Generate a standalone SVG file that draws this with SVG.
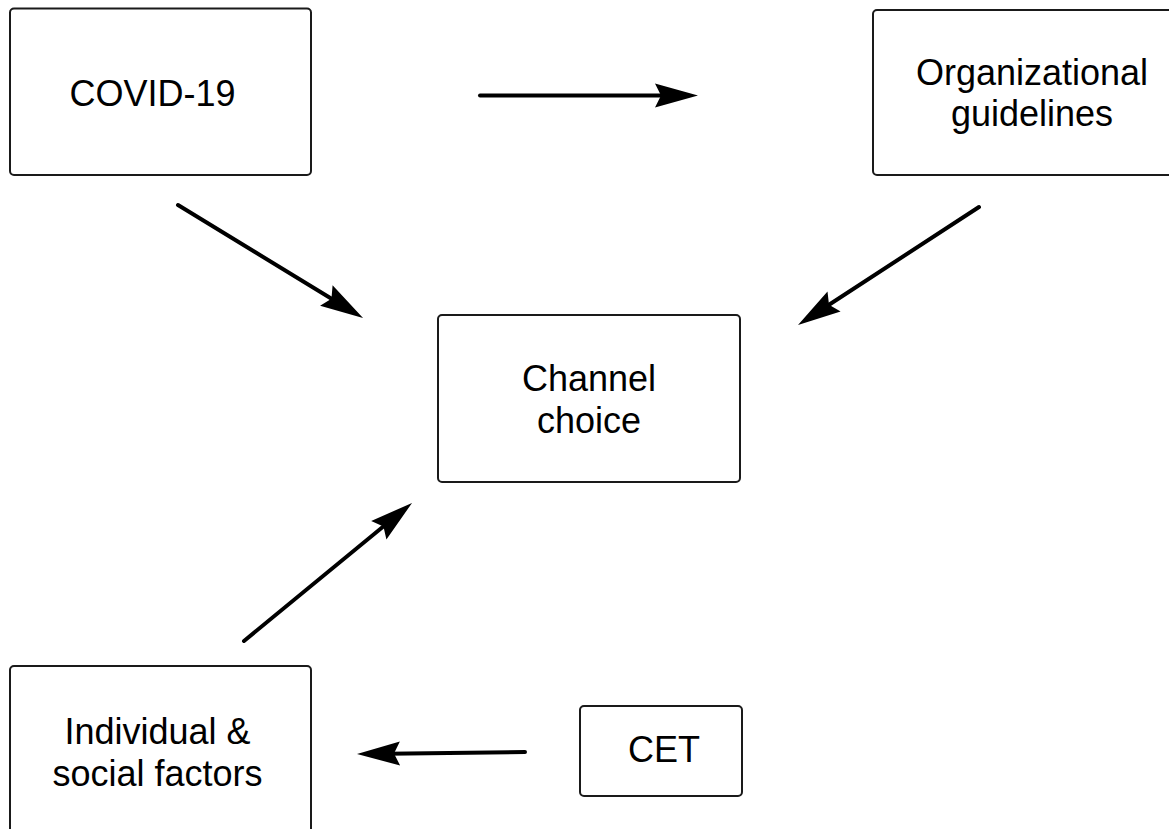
<svg xmlns="http://www.w3.org/2000/svg" width="1169" height="829" viewBox="0 0 1169 829">
<style>
.box{fill:#fff;stroke:#1a1a1a;stroke-width:2}
.lbl{font-family:"Liberation Sans",Arial,sans-serif;font-size:36px;fill:#000;text-anchor:middle}
.conn{stroke:#000;stroke-width:4;stroke-linecap:round;fill:none;marker-end:url(#ah)}
</style>
<defs>
<marker id="ah" markerUnits="userSpaceOnUse" markerWidth="50" markerHeight="30" viewBox="-2 -14 50 28" refX="33" refY="0" orient="auto">
<path d="M0,-12 L43,0 L0,12 L6,0 Z" fill="#000"/>
</marker>
</defs>
<rect width="1169" height="829" fill="#fff"/>
<g id="covid">
<rect class="box" x="10" y="8.5" width="301" height="166.5" rx="4"/>
<text class="lbl" x="152.5" y="106">COVID-19</text>
</g>
<g id="org">
<rect class="box" x="873" y="10" width="318" height="165" rx="4"/>
<text class="lbl" x="1032" y="85">Organizational</text>
<text class="lbl" x="1032" y="126">guidelines</text>
</g>
<g id="channel">
<rect class="box" x="438" y="315" width="302" height="167" rx="4"/>
<text class="lbl" x="589" y="391">Channel</text>
<text class="lbl" x="589" y="433">choice</text>
</g>
<g id="individual">
<rect class="box" x="10" y="666" width="301" height="190" rx="4"/>
<text class="lbl" x="157.5" y="744">Individual &amp;</text>
<text class="lbl" x="157.5" y="786">social factors</text>
</g>
<g id="cet">
<rect class="box" x="580" y="706" width="162" height="90" rx="4"/>
<text class="lbl" x="664" y="762">CET</text>
</g>
<g id="connectors">
<line class="conn" x1="480" y1="95.5" x2="688" y2="95.5"/>
<line class="conn" x1="178" y1="205" x2="354.5" y2="312.8"/>
<line class="conn" x1="979" y1="207" x2="806.4" y2="319.5"/>
<line class="conn" x1="244" y1="641" x2="404.3" y2="509.3"/>
<line class="conn" x1="525" y1="752" x2="367" y2="753.9"/>
</g>
</svg>
